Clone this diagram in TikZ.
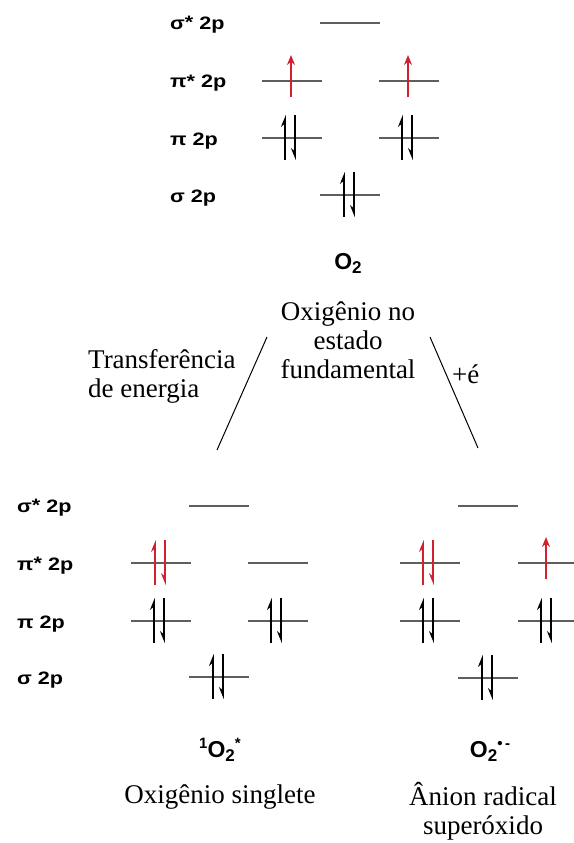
\documentclass[tikz,border=0pt]{standalone}
\usepackage{fontspec}
\setmainfont{Liberation Serif}
\setsansfont{Liberation Sans}
\newfontfamily\labfont{Liberation Sans}[FakeStretch=1.2]
\usetikzlibrary{arrows.meta}
\definecolor{lvlgray}{HTML}{5E5E5E}
\definecolor{spinred}{HTML}{D2202E}
\newcommand\orbline[2]{\draw[lvl] ({#1-30},#2) -- ({#1+30},#2);}
\newcommand\spinpair[3]{%
  \draw[harpu,draw=#3,fill=#3] ({#1-5},{#2+22}) -- ({#1-5},{#2-23});
  \draw[harpd,draw=#3,fill=#3] ({#1+5},{#2-23}) -- ({#1+5},{#2+22});}
\newcommand\spinup[3]{%
  \draw[full,draw=#3,fill=#3] (#1,{#2+16}) -- (#1,{#2-26});}
\newcommand\subtwo{\raisebox{-4pt}{\fontsize{17}{17}\selectfont 2}}
\newcommand\supsm[1]{\raisebox{9pt}{\fontsize{15}{15}\selectfont #1}}
\begin{document}
\begin{tikzpicture}[x=1pt,y=-1pt,
  lvl/.style={draw=lvlgray,line width=1.8pt},
  harpu/.style={line width=1.5pt,-{Stealth[harpoon,length=10pt,width=8pt]}},
  harpd/.style={line width=1.5pt,-{Stealth[harpoon,swap,length=10pt,width=8pt]}},
  full/.style={line width=1.4pt,-{Stealth[length=10pt,width=8pt]}},
  lab/.style={font=\labfont\bfseries\fontsize{18}{20}\selectfont,anchor=base west,inner sep=0pt},
  mol/.style={font=\sffamily\bfseries\fontsize{23}{25}\selectfont,anchor=base,inner sep=0pt},
  captxt/.style={font=\fontsize{27}{29}\selectfont,inner sep=0pt,align=center},
  conn/.style={line width=1pt,draw=black}]
\useasboundingbox (0,0) rectangle (573,843);

% ---------- top: O2 ground state ----------
\node[lab] (ta) at (170,30) {σ\raisebox{1pt}{*} 2p};
\node[lab] (tb) at (170,88) {π\raisebox{1pt}{*} 2p};
\node[lab] (tc) at (170,145) {π 2p};
\node[lab] (td) at (170,202) {σ 2p};
\orbline{349.5}{23}
\orbline{292}{81}
\orbline{409}{81}
\orbline{292}{138}
\orbline{409}{138}
\orbline{349.5}{195}
\spinup{291}{81}{spinred}
\spinup{408}{81}{spinred}
\spinpair{290}{138}{black}
\spinpair{407}{138}{black}
\spinpair{349}{195}{black}

\node[mol] (o2) at (348,269) {O\subtwo};
\node[captxt] (ground) at (348,340) {Oxigênio no\\estado\\fundamental};
\node[captxt,anchor=west,align=left] (transf) at (88,376) {Transferência\\de energia};
\node[captxt,anchor=base west] (plus) at (452,383) {+é};

\coordinate (l1) at (267,337);
\coordinate (l2) at (217,450);
\coordinate (r1) at (430,337);
\coordinate (r2) at (478,448);
\draw[conn] (l1) -- (l2);
\draw[conn] (r1) -- (r2);

% ---------- bottom left: singlet oxygen ----------
\node[lab] (la) at (17,512) {σ\raisebox{1pt}{*} 2p};
\node[lab] (lb) at (17,570) {π\raisebox{1pt}{*} 2p};
\node[lab] (lc) at (17,628) {π 2p};
\node[lab] (ld) at (17,684) {σ 2p};
\orbline{218.5}{506}
\orbline{160.5}{563}
\orbline{278}{563}
\orbline{160.5}{621}
\orbline{278}{621}
\orbline{218.5}{677}
\spinpair{160}{563}{spinred}
\spinpair{159}{621}{black}
\spinpair{276}{621}{black}
\spinpair{218}{677}{black}

\node[mol] (singo) at (220,757) {\supsm{1}O\subtwo\supsm{*}};
\node[captxt,anchor=base] (singt) at (220,803) {Oxigênio singlete};

% ---------- bottom right: superoxide ----------
\orbline{488}{506}
\orbline{430}{563}
\orbline{548}{563}
\orbline{430}{621}
\orbline{548}{621}
\orbline{488}{678}
\spinpair{428}{563}{spinred}
\spinup{546}{563}{spinred}
\spinpair{428}{621}{black}
\spinpair{546}{621}{black}
\spinpair{487}{678}{black}

\node[mol] (supo) at (490,757) {O\subtwo\supsm{•\,-}};
\node[captxt] (supt) at (483,811) {Ânion radical\\superóxido};
\end{tikzpicture}
\end{document}
